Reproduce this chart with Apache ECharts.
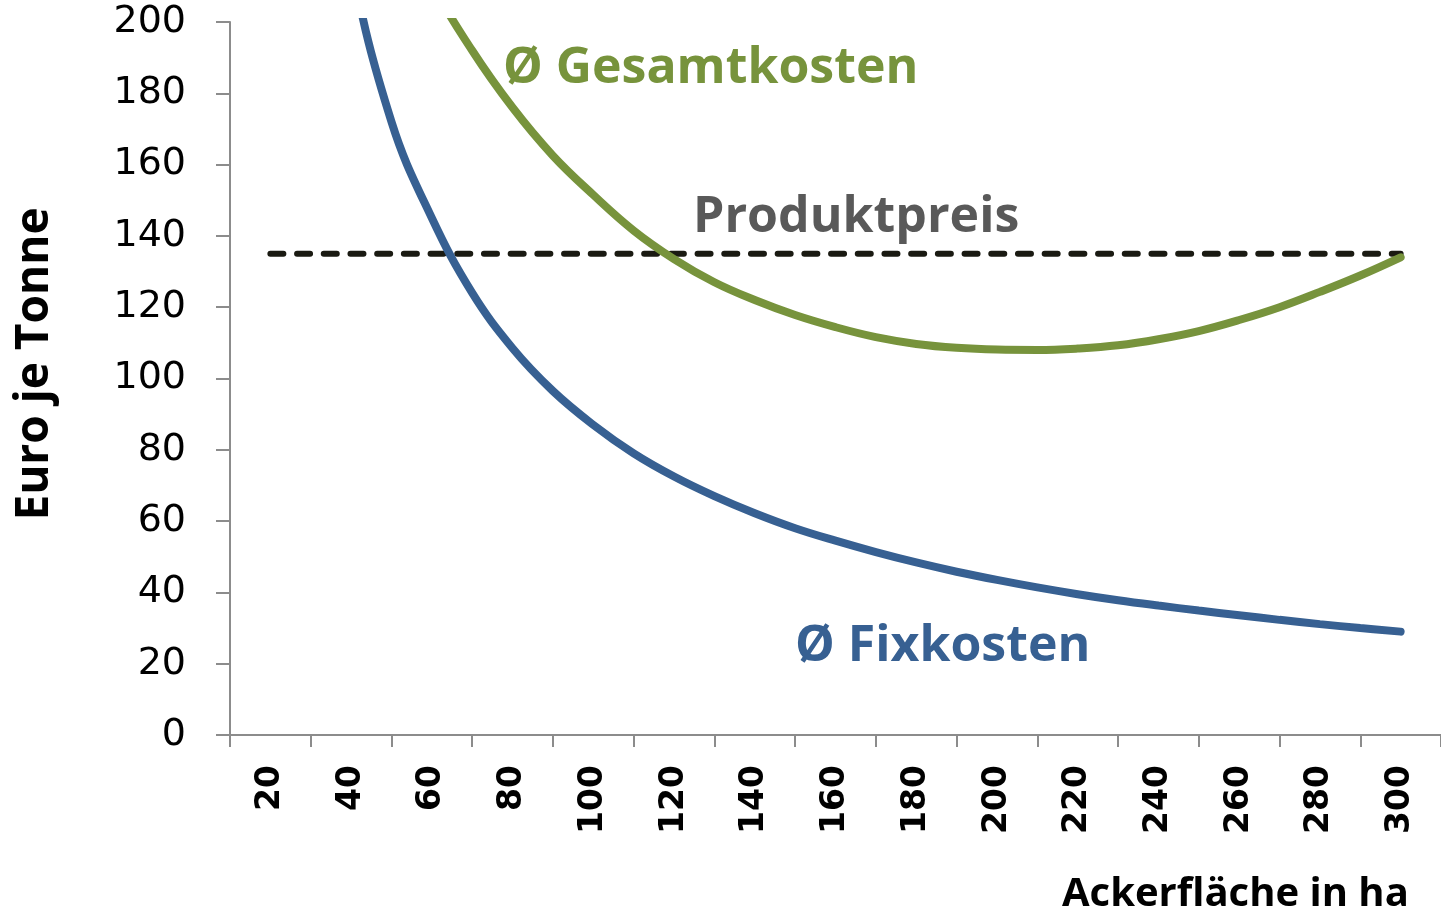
<!DOCTYPE html>
<html>
<head>
<meta charset="utf-8">
<script src="https://cdn.jsdelivr.net/npm/echarts@6/dist/echarts.min.js"></script>
<style>
html,body{margin:0;padding:0;background:#fff;}
#chart{width:1441px;height:914px;}
</style>
</head>
<body>
<div id="chart"></div>
<script>
// ---- data ----
// categories every 10 ha; ticks fall on 10,30,50,... and labels on 20,40,...,300
const categories = ['10','20','30','40','50','60','70','80','90','100','110','120','130','140','150','160',
  '170','180','190','200','210','220','230','240','250','260','270','280','290','300','310'];
const fixkosten = [null, 435, 290, 217, 172, 145, 124, 108.5, 96.5, 87, 79, 72.5, 67, 62.2, 58, 54.5,
  51.3, 48.4, 45.8, 43.5, 41.4, 39.5, 37.8, 36.3, 34.9, 33.6, 32.3, 31.1, 30, 29, null];
const gesamtkosten = [null, 430, 335, 275, 238, 211, 192, 176, 162.5, 151.5, 141.5, 133.5, 127, 122, 117.8, 114.4,
  111.6, 109.7, 108.6, 108.1, 108, 108.4, 109.3, 111, 113.3, 116.4, 120, 124.3, 128.9, 134, null];
const produktpreis = [null, 135, 135, 135, 135, 135, 135, 135, 135, 135, 135, 135, 135, 135, 135, 135,
  135, 135, 135, 135, 135, 135, 135, 135, 135, 135, 135, 135, 135, 135, null];
const yMin = 0, yMax = 200, yStep = 20;
const labels = {
  gesamt: 'Ø Gesamtkosten',
  preis: 'Produktpreis',
  fix: 'Ø Fixkosten',
  yTitle: 'Euro je Tonne',
  xTitle: 'Ackerfläche in ha'
};

const chart = echarts.init(document.getElementById('chart'), null, {renderer: 'canvas'});
const axisGray = '#8c8c8c';
const blue = '#376092';
const green = '#77933c';
const boldFont = '"Open Sans", "Noto Sans", sans-serif';

chart.setOption({
  animation: false,
  backgroundColor: '#ffffff',
  grid: {left: 230, top: 22, width: 1215, height: 713, containLabel: false},
  xAxis: {
    type: 'category',
    data: categories,
    boundaryGap: false,
    axisLine: {lineStyle: {color: axisGray, width: 2}},
    axisTick: {show: true, length: 12, interval: function (i) { return i % 2 === 0; },
      lineStyle: {color: axisGray, width: 2}},
    axisLabel: {
      rotate: 90, margin: 30, color: '#000', interval: function (i) { return i % 2 === 1 && i < categories.length - 1; },
      fontFamily: '"DejaVu Sans", Verdana, sans-serif', fontWeight: 'bold', fontSize: 33
    },
    splitLine: {show: false}
  },
  yAxis: {
    type: 'value',
    min: yMin, max: yMax, interval: yStep,
    axisLine: {show: true, lineStyle: {color: axisGray, width: 2}},
    axisTick: {show: true, length: 14, lineStyle: {color: axisGray, width: 2}},
    axisLabel: {
      margin: 44, color: '#000',
      fontFamily: '"DejaVu Sans", Verdana, sans-serif', fontSize: 38
    },
    splitLine: {show: false}
  },
  series: [
    {
      name: 'Fixkosten', type: 'line', data: fixkosten, smooth: 0.4,
      showSymbol: false, clip: true,
      lineStyle: {color: blue, width: 8, cap: 'round'}
    },
    {
      name: 'Gesamtkosten', type: 'line', data: gesamtkosten, smooth: 0.4,
      showSymbol: false, clip: true,
      lineStyle: {color: green, width: 8, cap: 'round'}
    },
    {
      name: 'Produktpreis', type: 'line', data: produktpreis,
      showSymbol: false, z: 1,
      lineStyle: {color: '#1a1a12', width: 6, type: [13, 13.7], cap: 'round'}
    }
  ],
  graphic: [
    {type: 'text', left: 503, top: 44, style: {text: labels.gesamt, fill: green, font: 'bold 50px ' + boldFont}},
    {type: 'text', left: 693, top: 193, style: {text: labels.preis, fill: '#595959', font: 'bold 50px ' + boldFont}},
    {type: 'text', left: 795, top: 622, style: {text: labels.fix, fill: blue, font: 'bold 50px ' + boldFont}},
    {type: 'text', x: 35, y: 364, rotation: Math.PI / 2,
      style: {text: labels.yTitle, fill: '#000', font: 'bold 46px ' + boldFont, align: 'center', verticalAlign: 'middle'}},
    {type: 'text', left: 1062, top: 875, style: {text: labels.xTitle, fill: '#000', font: 'bold 40px ' + boldFont}}
  ]
});
</script>
</body>
</html>
